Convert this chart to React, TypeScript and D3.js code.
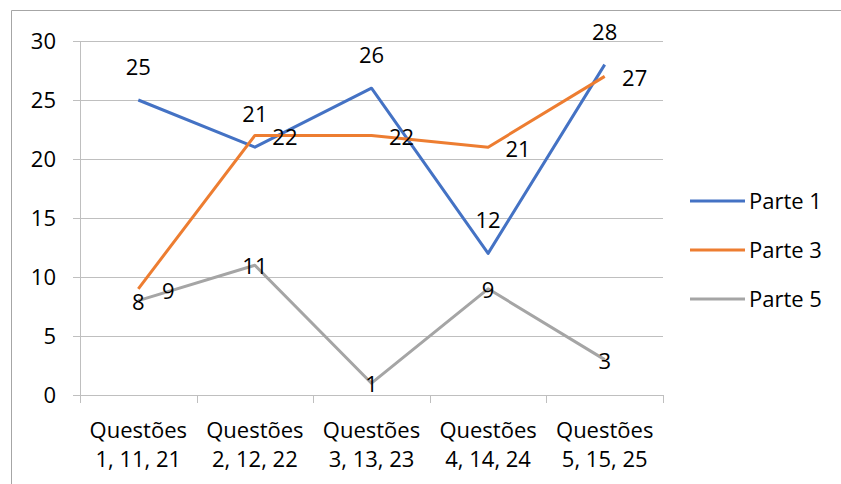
import React from "react";
import * as d3 from "d3";

const categories = [
  ["Questões", "1, 11, 21"],
  ["Questões", "2, 12, 22"],
  ["Questões", "3, 13, 23"],
  ["Questões", "4, 14, 24"],
  ["Questões", "5, 15, 25"],
];
const seriesNames = ["Parte 1", "Parte 3", "Parte 5"];
const parte1 = [25, 21, 26, 12, 28];
const parte3 = [9, 22, 22, 21, 27];
const parte5 = [8, 11, 1, 9, 3];
const yTicks = [0, 5, 10, 15, 20, 25, 30];

const colors = ["#4472C4", "#ED7D31", "#A5A5A5"];
const FONT = "'Open Sans', Lato, sans-serif";
const FS = 22;

export default function App() {
  const W = 841, H = 484;
  const left = 80, right = 663, top = 41, bottom = 395;
  const x = d3.scaleBand<number>().domain(d3.range(5)).range([left, right]).padding(0);
  const cx = (i: number) => (x(i) as number) + x.bandwidth() / 2;
  const y = d3.scaleLinear().domain([0, 30]).range([bottom, top]);
  const line = d3.line<number>().x((_, i) => cx(i)).y((d) => y(d));
  const series = [parte1, parte3, parte5];

  // label placement: series 0 above, series 1 right, series 2 centered
  const labelPos = (s: number, i: number, v: number) => {
    if (s === 0) return [cx(i), y(v) - 33];
    if (s === 1) return [cx(i) + 30, y(v) + 2];
    return [cx(i), y(v) + 1];
  };

  return (
    <svg width={W} height={H} style={{ position: "absolute", left: 0, top: 0 }}>
      <rect x={0} y={0} width={W} height={H} fill="#fff" />
      <path d={`M11.5,${H} V10.5 H${W}`} fill="none" stroke="#a6a6a6" strokeWidth={1} />
      {yTicks.map((t) => (
        <g key={t}>
          <line x1={73} x2={right} y1={Math.round(y(t)) + 0.5} y2={Math.round(y(t)) + 0.5} stroke="#bfbfbf" strokeWidth={1} />
          <text x={56} y={y(t)} dy="0.36em" textAnchor="end" fontFamily={FONT} fontSize={FS} fill="#000">
            {t}
          </text>
        </g>
      ))}
      <line x1={left + 0.5} x2={left + 0.5} y1={top} y2={bottom + 0.5} stroke="#bfbfbf" />
      {d3.range(6).map((i) => {
        const xx = Math.round(i < 5 ? (x(i) as number) : right) + 0.5;
        return <line key={i} x1={xx} x2={xx} y1={bottom} y2={bottom + 8} stroke="#bfbfbf" />;
      })}
      {categories.map((c, i) => (
        <text key={i} textAnchor="middle" fontFamily={FONT} fontSize={FS} fill="#000">
          <tspan x={cx(i)} y={438}>{c[0]}</tspan>
          <tspan x={cx(i)} y={467}>{c[1]}</tspan>
        </text>
      ))}
      {series.map((s, k) => (
        <path key={k} d={line(s) as string} fill="none" stroke={colors[k]} strokeWidth={3} strokeLinejoin="round" />
      ))}
      {series.map((s, k) =>
        s.map((v, i) => {
          const [lx, ly] = labelPos(k, i, v);
          return (
            <text key={`${k}-${i}`} x={lx} y={ly} dy="0.36em" textAnchor="middle" fontFamily={FONT} fontSize={FS} fill="#000">
              {v}
            </text>
          );
        })
      )}
      {seriesNames.map((n, k) => (
        <g key={n}>
          <line x1={690} x2={745} y1={201 + k * 49} y2={201 + k * 49} stroke={colors[k]} strokeWidth={3} />
          <text x={749} y={201 + k * 49} dy="0.36em" fontFamily={FONT} fontSize={FS} fill="#000">
            {n}
          </text>
        </g>
      ))}
    </svg>
  );
}
